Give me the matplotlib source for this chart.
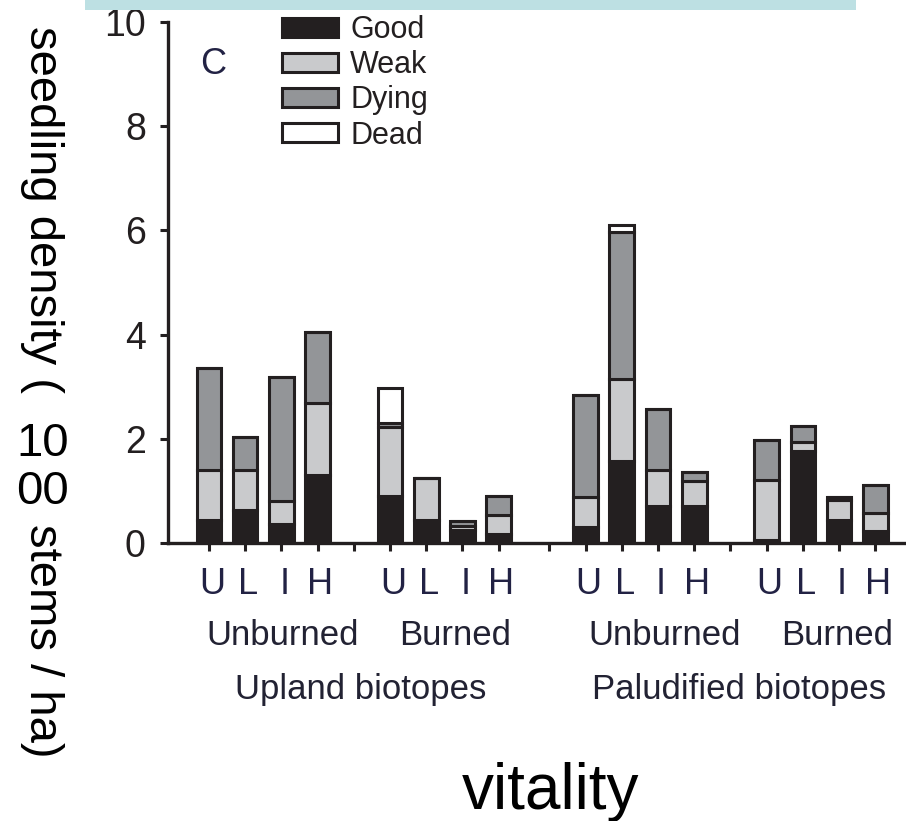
import matplotlib.pyplot as plt
from matplotlib.patches import Rectangle

plt.rcParams['font.family'] = ['Liberation Sans', 'DejaVu Sans']

# seedling density per vitality class (1000 stems / ha)
letters = ["U", "L", "I", "H"]
groups = ["Unburned", "Burned", "Unburned", "Burned"]
biotopes = ["Upland biotopes", "Paludified biotopes"]
classes = ["Good", "Weak", "Dying", "Dead"]

good = [0.44, 0.63, 0.36, 1.30, 0.90, 0.44, 0.25, 0.17,
        0.31, 1.57, 0.71, 0.71, 0.05, 1.77, 0.44, 0.23]
weak = [0.96, 0.77, 0.45, 1.39, 1.33, 0.81, 0.08, 0.37,
        0.57, 1.58, 0.69, 0.48, 1.16, 0.17, 0.38, 0.34]
dying = [1.95, 0.63, 2.38, 1.36, 0.07, 0.00, 0.10, 0.36,
         1.96, 2.82, 1.17, 0.17, 0.77, 0.31, 0.06, 0.54]
dead = [0, 0, 0, 0, 0.67, 0, 0, 0,
        0, 0.13, 0, 0, 0, 0, 0, 0]

ink = "#231f20"
colors = [ink, "#c9cacc", "#939598", "white"]

# layout: 4 groups of 4 bars, wider gap between the two biotopes
group_start = [0, 5, 10.4, 15.4]
xpos = [s + i for s in group_start for i in range(4)]
seps = [s - 1 for s in group_start[1:]]

fig = plt.figure(figsize=(9.06, 8.21), dpi=100)
ax = fig.add_axes([168 / 906, 1 - 543 / 821, 737 / 906, 521 / 821])

bottom = [0.0] * len(xpos)
handles = []
for vals, col, name in zip([good, weak, dying, dead], colors, classes):
    b = ax.bar(xpos, vals, width=0.68, bottom=bottom, color=col,
               edgecolor=ink, linewidth=2.2, label=name, zorder=3)
    handles.append(b)
    bottom = [a + v for a, v in zip(bottom, vals)]

ax.set_ylim(0, 10)
ax.set_xlim(-1.13, 19.22)
ax.set_yticks([0, 2, 4, 6, 8, 10])
ax.tick_params(axis="y", labelsize=27, length=6, width=2.2, color=ink,
               labelcolor=ink, pad=10)
ax.set_xticks(xpos)
ax.set_xticklabels([])
ax.set_xticks(seps, minor=True)
ax.tick_params(axis="x", which="both", length=6, width=2.2, color=ink)
for s in ["top", "right"]:
    ax.spines[s].set_visible(False)
for s in ["left", "bottom"]:
    ax.spines[s].set_linewidth(2.4)
    ax.spines[s].set_color(ink)

tr = ax.get_xaxis_transform()
for x, lab in zip(xpos, letters * 4):
    ax.text(x + 0.08, -0.079, lab, transform=tr, ha="center", va="center",
            fontsize=26, color="#222244")
for x, lab in zip([2.04, 6.8, 12.57, 17.35], groups):
    ax.text(x, -0.178, lab, transform=tr, ha="center", va="center",
            fontsize=25, color="#222233")
for x, lab in zip([4.2, 14.64], biotopes):
    ax.text(x, -0.282, lab, transform=tr, ha="center", va="center",
            fontsize=25, color="#222233")

ax.legend(handles=handles, loc="upper left", bbox_to_anchor=(282 / 906, 1 - 15 / 821),
          bbox_transform=fig.transFigure, frameon=False, fontsize=22,
          handlelength=1.83, handleheight=0.59, handletextpad=0.4,
          labelspacing=0.17, borderpad=0, borderaxespad=0, labelcolor=ink)

fig.text(213 / 906, 1 - 64 / 821, "C", fontsize=26, ha="center", va="center", color="#222244")

# light band at the top
fig.add_artist(Rectangle((85 / 906, 1 - 10 / 821), 771 / 906, 10 / 821,
                         transform=fig.transFigure, color="#bde0e3", lw=0))

# y label pieces
fig.text(42 / 906, 1 - 26 / 821, "seedling density (", rotation=270, fontsize=34,
         ha="center", va="top")
fig.text(43 / 906, 1 - 444 / 821, "10", fontsize=34, ha="center", va="center")
fig.text(43 / 906, 1 - 492 / 821, "00", fontsize=34, ha="center", va="center")
fig.text(42 / 906, 1 - 524 / 821, "stems / ha)", rotation=270, fontsize=34,
         ha="center", va="top")

fig.text(551 / 906, 1 - 792 / 821, "vitality", fontsize=46, ha="center", va="center")

fig.savefig("out.png", dpi=100)
